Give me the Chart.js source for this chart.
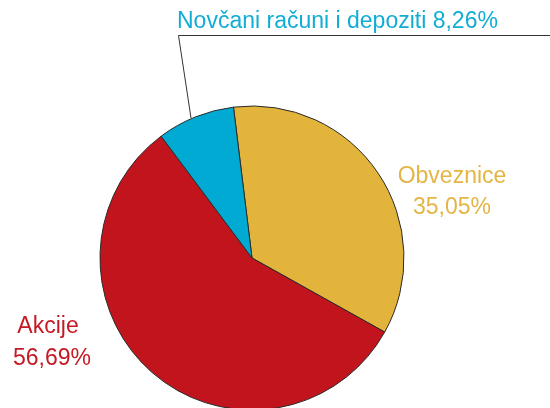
<!DOCTYPE html>
<html>
<head>
<meta charset="utf-8">
<script src="https://cdn.jsdelivr.net/npm/chart.js@4/dist/chart.umd.min.js"></script>
<style>
html,body{margin:0;padding:0;background:#fff;overflow:hidden;}
#wrap{width:550px;height:408px;position:relative;}
</style>
</head>
<body>
<div id="wrap"><canvas id="c" width="550" height="408"></canvas></div>
<script>
const categories = ['Obveznice', 'Akcije', 'Novčani računi i depoziti'];
const values = [35.05, 56.69, 8.26];
const colors = ['#E3B43C', '#C1141C', '#00AAD3'];
const textColors = ['#E4B545', '#C51A24', '#12ADD5'];

function fmt(v){ return v.toFixed(2).replace('.', ',') + '%'; }

const labelPlugin = {
  id: 'labelPlugin',
  afterDraw(chart){
    const ctx = chart.ctx;
    ctx.save();
    ctx.font = '23px "Liberation Sans", Arial, sans-serif';
    ctx.textBaseline = 'alphabetic';
    ctx.strokeStyle = '#333';
    ctx.lineWidth = 1;
    ctx.beginPath();
    ctx.moveTo(550, 35.5);
    ctx.lineTo(178.5, 35.5);
    ctx.lineTo(191, 118);
    ctx.stroke();
    ctx.fillStyle = textColors[2];
    ctx.textAlign = 'left';
    ctx.fillText(categories[2] + ' ' + fmt(values[2]), 177, 28);
    ctx.textAlign = 'center';
    ctx.fillStyle = textColors[0];
    ctx.fillText(categories[0], 452, 183);
    ctx.fillText(fmt(values[0]), 452, 214);
    ctx.fillStyle = textColors[1];
    ctx.fillText(categories[1], 48, 333);
    ctx.fillText(fmt(values[1]), 52, 365);
    ctx.restore();
  }
};

new Chart(document.getElementById('c'), {
  type: 'pie',
  data: {
    labels: categories,
    datasets: [{
      data: values,
      backgroundColor: colors,
      borderColor: '#2a2a2a',
      borderWidth: 1,
      radius: 152,
      clip: false
    }]
  },
  options: {
    responsive: false,
    animation: false,
    rotation: -7,
    layout: { padding: { left: 0, right: 46, top: 108, bottom: 0 } },
    plugins: { legend: { display: false }, tooltip: { enabled: false } },
    events: []
  },
  plugins: [labelPlugin]
});
</script>
</body>
</html>
